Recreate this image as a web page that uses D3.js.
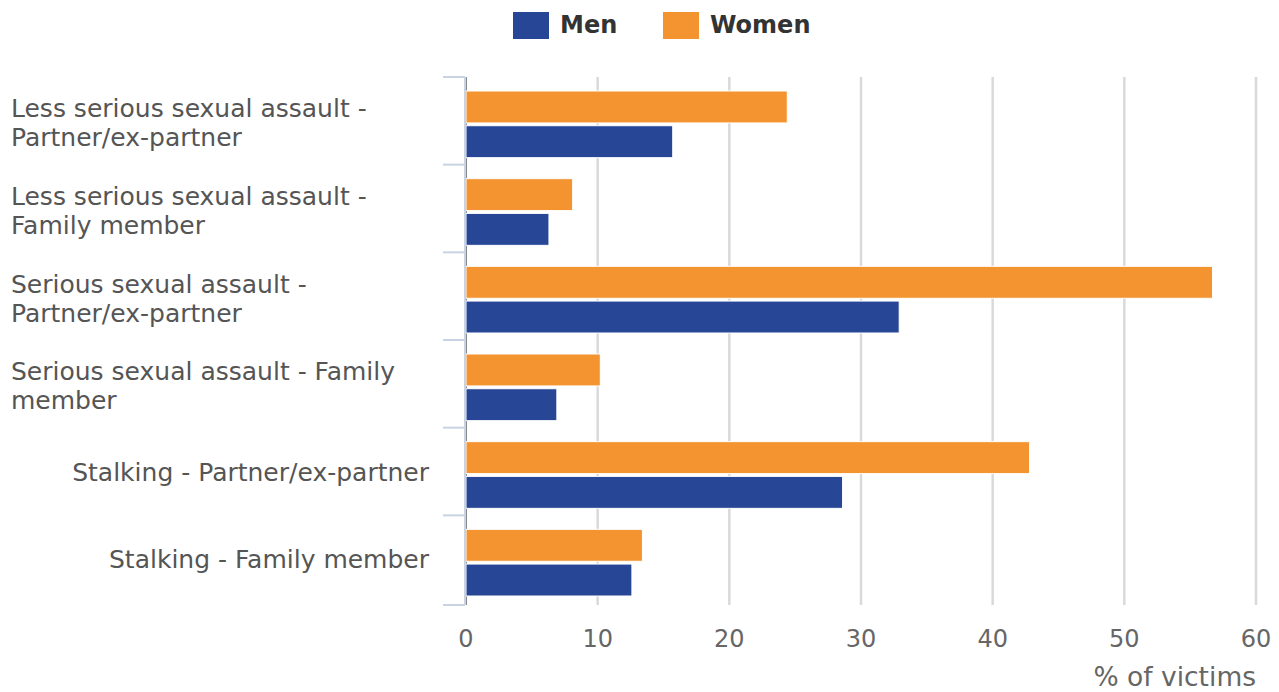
<!DOCTYPE html>
<html>
<head>
<meta charset="utf-8">
<script src="https://cdn.jsdelivr.net/npm/d3@7"></script>
<style>
  body { margin: 0; background: #fff; }
  svg { font-family: "DejaVu Sans", sans-serif; }
</style>
</head>
<body>
<div id="chart"></div>
<script>
const categories = [
  ["Less serious sexual assault -", "Partner/ex-partner"],
  ["Less serious sexual assault -", "Family member"],
  ["Serious sexual assault -", "Partner/ex-partner"],
  ["Serious sexual assault - Family", "member"],
  ["Stalking - Partner/ex-partner"],
  ["Stalking - Family member"]
];
const women = [24.4, 8.1, 56.7, 10.2, 42.8, 13.4];
const men = [15.7, 6.3, 32.9, 6.9, 28.6, 12.6];
const xTicks = [0, 10, 20, 30, 40, 50, 60];
const seriesNames = ["Men", "Women"];

const colors = { Men: "#274796", Women: "#f39430" };

const svgWidth = 1279;
const svgHeight = 692;
const margin = { top: 77, left: 466, right: 23, bottom: 89 };
const width = svgWidth - margin.left - margin.right;
const height = svgHeight - margin.top - margin.bottom;

const svg = d3.select("#chart").append("svg")
  .attr("width", svgWidth)
  .attr("height", svgHeight);

const chartGroup = svg.append("g")
  .attr("transform", `translate(${margin.left}, ${margin.top})`);

const xScale = d3.scaleLinear().domain([0, 60]).range([0, 790]);
const yScale = d3.scaleBand().domain(d3.range(categories.length)).range([0, height]);
const inner = d3.scaleBand().domain(["Women", "Men"])
  .range([14, yScale.bandwidth() - 7]).paddingInner(0.08);

// gridlines
chartGroup.selectAll("line.grid")
  .data(xTicks)
  .enter().append("line")
  .attr("x1", d => xScale(d)).attr("x2", d => xScale(d))
  .attr("y1", 0).attr("y2", height + 2)
  .attr("stroke", d => d === 0 ? "#888" : "#d9d9d9")
  .attr("stroke-width", d => d === 0 ? 2 : 2.5);

// bars
const rows = chartGroup.selectAll("g.row")
  .data(categories.map((c, i) => ({ i, Women: women[i], Men: men[i] })))
  .enter().append("g")
  .attr("transform", d => `translate(0, ${yScale(d.i)})`);

["Women", "Men"].forEach(s => {
  rows.append("rect")
    .attr("x", 0)
    .attr("y", inner(s))
    .attr("width", d => xScale(d[s]))
    .attr("height", inner.bandwidth())
    .attr("fill", colors[s])
    .attr("stroke", "#fff")
    .attr("stroke-width", 1);
});

// category axis
chartGroup.append("line")
  .attr("x1", -1).attr("x2", -1)
  .attr("y1", 0).attr("y2", height + 2)
  .attr("stroke", "#c8d4e3").attr("stroke-width", 2);

chartGroup.selectAll("line.ytick")
  .data(d3.range(categories.length + 1))
  .enter().append("line")
  .attr("x1", -23).attr("x2", -1)
  .attr("y1", d => d === categories.length ? height + 2 : d * yScale.step())
  .attr("y2", d => d === categories.length ? height + 2 : d * yScale.step())
  .attr("stroke", "#c8d4e3").attr("stroke-width", 2);

// category labels
categories.forEach((lines, i) => {
  const cy = yScale(i) + yScale.bandwidth() / 2 + 3;
  const t = svg.append("text")
    .attr("fill", "#555")
    .attr("font-size", 25)
    .attr("text-anchor", lines.length > 1 ? "start" : "end");
  const x = lines.length > 1 ? 11 : 429;
  lines.forEach((l, j) => {
    t.append("tspan")
      .attr("x", x)
      .attr("y", margin.top + cy + (j - (lines.length - 1) / 2) * 29 + (lines.length > 1 ? 8 : 6))
      .text(l);
  });
});

// x axis labels
chartGroup.selectAll("text.xtick")
  .data(xTicks)
  .enter().append("text")
  .attr("x", d => xScale(d))
  .attr("y", height + 44)
  .attr("text-anchor", "middle")
  .attr("fill", "#666")
  .attr("font-size", 24)
  .text(d => d);

svg.append("text")
  .attr("x", 1256)
  .attr("y", 686)
  .attr("text-anchor", "end")
  .attr("fill", "#666")
  .attr("font-size", 26.5)
  .text("% of victims");

// legend
const legendX = [513, 663];
seriesNames.forEach((s, i) => {
  svg.append("rect")
    .attr("x", legendX[i]).attr("y", 12)
    .attr("width", 36).attr("height", 27)
    .attr("fill", colors[s]);
  svg.append("text")
    .attr("x", legendX[i] + 47).attr("y", 33)
    .attr("font-size", 24).attr("font-weight", "bold")
    .attr("fill", "#333")
    .text(s);
});
</script>
</body>
</html>
